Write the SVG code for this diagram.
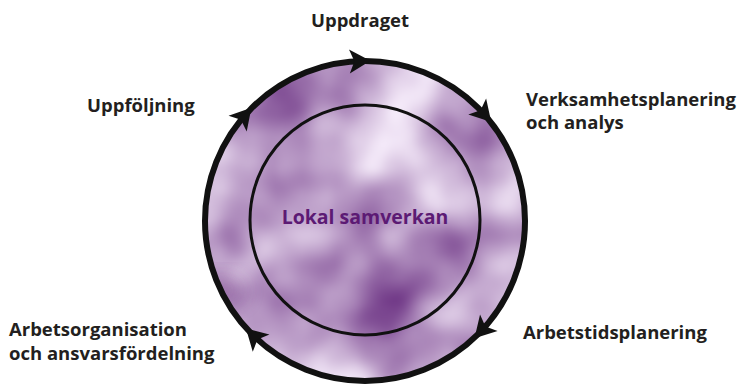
<svg xmlns="http://www.w3.org/2000/svg" width="737" height="386" viewBox="0 0 737 386">
  <style>
    .lbl { font-family: "Open Sans", "Liberation Sans", sans-serif; font-weight: 700; font-size: 18.5px; fill: #231f20; }
    .ctr { font-family: "Open Sans", "Liberation Sans", sans-serif; font-weight: 700; font-size: 19.5px; fill: #5c1a74; }
    .ring { fill: none; stroke: #111111; }
    .arrow { fill: #111111; }
  </style>
  <defs>
    <filter id="clouds" x="0" y="0" width="100%" height="100%" color-interpolation-filters="sRGB">
      <feTurbulence type="fractalNoise" baseFrequency="0.009" numOctaves="3" seed="11" result="n"/>
      <feColorMatrix in="n" type="matrix" values="0.862 0 0 0 0.294  1.16 0 0 0 0.024  0.746 0 0 0 0.402  0 0 0 0 1" result="c"/>
      <feGaussianBlur in="c" stdDeviation="2"/>
    </filter>
    <filter id="soft" x="-50%" y="-50%" width="200%" height="200%">
      <feGaussianBlur stdDeviation="10"/>
    </filter>
    <clipPath id="disc">
      <circle cx="365" cy="221" r="162"/>
    </clipPath>
    <path id="ah" d="M11,0 L-10,-12 L-5,0 L-10,12 Z"/>
  </defs>

  <g id="background">
    <rect x="0" y="0" width="737" height="386" fill="#ffffff"/>
  </g>

  <g id="disc-fill" clip-path="url(#disc)">
    <rect x="200" y="56" width="330" height="330" fill="#bfa0cf"/>
    <rect x="190" y="46" width="350" height="350" filter="url(#clouds)"/>
    <ellipse cx="222" cy="290" rx="22" ry="14" fill="#6a2f7e" opacity="0.55" filter="url(#soft)"/>
  </g>

  <g id="connectors">
    <circle class="ring" cx="365" cy="221" r="160" stroke-width="6"/>
    <use href="#ah" class="arrow" transform="translate(359.4,61.1) rotate(-2)"/>
    <use href="#ah" class="arrow" transform="translate(483.9,113.9) rotate(48)"/>
    <use href="#ah" class="arrow" transform="translate(482,330.1) rotate(133)"/>
    <use href="#ah" class="arrow" transform="translate(253.9,336.1) rotate(224)"/>
    <use href="#ah" class="arrow" transform="translate(244.2,116) rotate(-49)"/>
  </g>

  <g id="inner">
    <circle class="ring" cx="365" cy="220" r="115" stroke-width="3"/>
    <text class="ctr" x="365" y="224" text-anchor="middle">Lokal samverkan</text>
  </g>

  <g id="n-uppdraget">
    <text class="lbl" x="360" y="27" text-anchor="middle">Uppdraget</text>
  </g>
  <g id="n-verksamhet">
    <text class="lbl" x="526" y="106">Verksamhetsplanering</text>
    <text class="lbl" x="526" y="129">och analys</text>
  </g>
  <g id="n-arbetstid">
    <text class="lbl" x="523" y="339">Arbetstidsplanering</text>
  </g>
  <g id="n-arbetsorg">
    <text class="lbl" x="9" y="336">Arbetsorganisation</text>
    <text class="lbl" x="9" y="360">och ansvarsfördelning</text>
  </g>
  <g id="n-uppfoljning">
    <text class="lbl" x="87" y="112">Uppföljning</text>
  </g>
</svg>
